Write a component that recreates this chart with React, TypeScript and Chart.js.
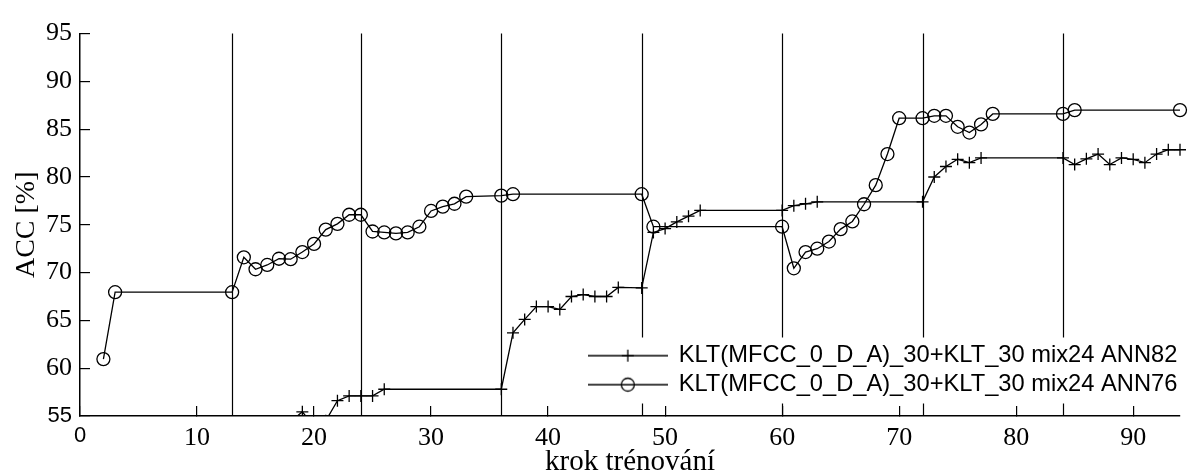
import React, { useEffect, useRef } from 'react';
import { Chart, registerables } from 'chart.js';

Chart.register(...registerables);

// ---- data ----
const xTickValues = [0, 10, 20, 30, 40, 50, 60, 70, 80, 90];
const yTickValues = [55, 60, 65, 70, 75, 80, 85, 90, 95];
const phaseBoundaries = [13, 24, 36, 48, 60, 72, 84];

const seriesNames = [
  'KLT(MFCC_0_D_A)_30+KLT_30 mix24 ANN82',
  'KLT(MFCC_0_D_A)_30+KLT_30 mix24 ANN76',
];

const stepsAnn82 = [18, 19, 20, 21, 22, 23, 24, 25, 26, 36, 37, 38, 39, 40, 41, 42, 43, 44, 45, 46, 48, 49, 50, 51, 52, 53, 60, 61, 62, 63, 72, 73, 74, 75, 76, 77, 84, 85, 86, 87, 88, 89, 90, 91, 92, 93, 94];
const accAnn82 = [54.4, 55.44, 53.9, 54.5, 56.6, 57.1, 57.1, 57.1, 57.8, 57.8, 63.7, 65.1, 66.45, 66.45, 66.15, 67.5, 67.7, 67.5, 67.5, 68.45, 68.4, 74.2, 74.6, 75.3, 75.9, 76.5, 76.5, 77.0, 77.2, 77.4, 77.4, 80.0, 81.1, 81.85, 81.5, 82.0, 82.0, 81.3, 81.9, 82.4, 81.3, 82.0, 81.85, 81.5, 82.4, 82.85, 82.85];

const stepsAnn76 = [2, 3, 13, 14, 15, 16, 17, 18, 19, 20, 21, 22, 23, 24, 25, 26, 27, 28, 29, 30, 31, 32, 33, 36, 37, 48, 49, 60, 61, 62, 63, 64, 65, 66, 67, 68, 69, 70, 72, 73, 74, 75, 76, 77, 78, 84, 85, 94];
const accAnn76 = [60.95, 67.95, 67.95, 71.6, 70.35, 70.8, 71.45, 71.4, 72.15, 73.0, 74.5, 75.1, 76.05, 76.05, 74.3, 74.2, 74.1, 74.2, 74.8, 76.45, 76.9, 77.2, 77.95, 78.05, 78.2, 78.2, 74.8, 74.8, 70.45, 72.15, 72.5, 73.25, 74.55, 75.35, 77.15, 79.15, 82.4, 86.15, 86.15, 86.4, 86.4, 85.25, 84.65, 85.5, 86.6, 86.6, 87.0, 87.0];

const xTitle = 'krok trénování';
const yTitle = 'ACC [%]';

// ---- helpers ----
const SERIF = 'Liberation Serif';
const SANS = 'Liberation Sans';

function toPoints(xs: number[], ys: number[]) {
  return xs.map((x, i) => ({ x, y: ys[i] }));
}

function makeLegendGlyph(kind: 'cross' | 'circle') {
  const c = document.createElement('canvas');
  c.width = 80;
  c.height = 20;
  const g = c.getContext('2d')!;
  g.strokeStyle = '#000';
  g.lineWidth = 1.3;
  g.beginPath();
  g.moveTo(0, 10);
  g.lineTo(80, 10);
  g.stroke();
  g.beginPath();
  if (kind === 'cross') {
    g.moveTo(34, 10);
    g.lineTo(46, 10);
    g.moveTo(40, 4);
    g.lineTo(40, 16);
  } else {
    g.arc(40, 10, 6.5, 0, Math.PI * 2);
  }
  g.stroke();
  return c;
}

const overlayPlugin = {
  id: 'phaseOverlay',
  afterLayout(chart: any) {
    const lg = chart.legend;
    const ca = chart.chartArea;
    if (!lg || !ca) return;
    lg.left = ca.right - 596.5;
    lg.right = ca.right + 2;
    lg.top = ca.bottom - 77.5;
    lg.bottom = lg.top + 70;
    lg.width = lg.right - lg.left;
    lg.height = lg.bottom - lg.top;
  },
  beforeDraw(chart: any) {
    const { ctx, chartArea: ca } = chart;
    const xs = chart.scales.x;
    const lg = chart.legend;
    ctx.save();
    ctx.strokeStyle = '#000';
    ctx.lineWidth = 1.2;
    phaseBoundaries.forEach((v) => {
      const px = Math.round(xs.getPixelForValue(v)) + 0.5;
      ctx.beginPath();
      ctx.moveTo(px, ca.top);
      ctx.lineTo(px, ca.bottom);
      ctx.stroke();
    });
    if (lg) {
      ctx.fillStyle = '#fff';
      ctx.fillRect(lg.left + 4, lg.top - 1, lg.right - lg.left - 4, 66);
    }
    ctx.restore();
  },
};

export default function App() {
  const ref = useRef<HTMLCanvasElement>(null);

  useEffect(() => {
    if (!ref.current) return;
    const glyphs = [makeLegendGlyph('cross'), makeLegendGlyph('circle')];
    const tickFont = (ctx: any) =>
      ctx.tick && (ctx.tick.value === 0 || ctx.tick.value === 55)
        ? { family: SANS, size: 22 }
        : { family: SERIF, size: 26 };
    const clipBox = { left: 10, top: 10, right: 10, bottom: 0 };

    const chart = new Chart(ref.current, {
      type: 'line',
      data: {
        datasets: [
          {
            label: seriesNames[0],
            data: toPoints(stepsAnn82, accAnn82),
            borderColor: '#000',
            borderWidth: 1.3,
            pointStyle: 'cross',
            pointRadius: 6,
            pointBorderWidth: 1.3,
            pointBorderColor: '#000',
            pointBackgroundColor: 'rgba(0,0,0,0)',
            tension: 0,
            fill: false,
            clip: clipBox,
          },
          {
            label: seriesNames[1],
            data: toPoints(stepsAnn76, accAnn76),
            borderColor: '#000',
            borderWidth: 1.3,
            pointStyle: 'circle',
            pointRadius: 6.5,
            pointBorderWidth: 1.3,
            pointBorderColor: '#000',
            pointBackgroundColor: 'rgba(0,0,0,0)',
            tension: 0,
            fill: false,
            clip: clipBox,
          },
        ],
      },
      options: {
        responsive: false,
        devicePixelRatio: 1,
        animation: false,
        events: [],
        layout: { padding: { left: 0, right: 8, top: 21, bottom: 0 } },
        scales: {
          x: {
            type: 'linear',
            min: 0,
            max: 94,
            afterBuildTicks: (s: any) => {
              s.ticks = xTickValues.map((v) => ({ value: v }));
            },
            afterFit: (s: any) => {
              s.height = 60;
            },
            grid: {
              display: true,
              drawOnChartArea: false,
              drawTicks: true,
              tickLength: -10,
              color: '#000',
              lineWidth: 1.2,
            },
            border: { display: true, color: '#000', width: 1.5 },
            ticks: {
              color: '#000',
              padding: 17,
              maxRotation: 0,
              font: tickFont,
              callback: (v: any) => String(v),
            },
            title: {
              display: true,
              text: xTitle,
              color: '#000',
              font: { family: SERIF, size: 29, lineHeight: 1 },
              padding: { top: 0, bottom: -0.7 },
            },
          },
          y: {
            type: 'linear',
            min: 55,
            max: 95,
            afterBuildTicks: (s: any) => {
              s.ticks = yTickValues.map((v) => ({ value: v }));
            },
            afterFit: (s: any) => {
              s.width = 80;
            },
            grid: {
              display: true,
              drawOnChartArea: false,
              drawTicks: true,
              tickLength: -10,
              color: '#000',
              lineWidth: 1.2,
            },
            border: { display: true, color: '#000', width: 1.5 },
            ticks: {
              color: '#000',
              padding: 18,
              font: tickFont,
              callback: (v: any) => String(v),
            },
            title: {
              display: true,
              text: yTitle,
              color: '#000',
              font: { family: SERIF, size: 28 },
              padding: { top: 10, bottom: 0 },
            },
          },
        },
        plugins: {
          tooltip: { enabled: false },
          legend: {
            display: true,
            position: 'chartArea',
            align: 'start',
            labels: {
              color: '#000',
              font: { family: SANS, size: 23.7 },
              usePointStyle: true,
              pointStyleWidth: 78,
              padding: 5.3,
              generateLabels: (c: any) =>
                c.data.datasets.map((ds: any, i: number) => ({
                  text: ds.label,
                  pointStyle: glyphs[i],
                  fillStyle: 'rgba(0,0,0,0)',
                  strokeStyle: '#000',
                  lineWidth: 1.3,
                  fontColor: '#000',
                  hidden: false,
                  datasetIndex: i,
                })),
            },
          },
        },
      } as any,
      plugins: [overlayPlugin as any],
    });
    return () => chart.destroy();
  }, []);

  return (
    <div style={{ position: 'absolute', left: 0, top: 0, width: 1188, height: 476, background: '#fff' }}>
      <canvas ref={ref} width={1188} height={476} style={{ display: 'block', width: 1188, height: 476 }} />
    </div>
  );
}
